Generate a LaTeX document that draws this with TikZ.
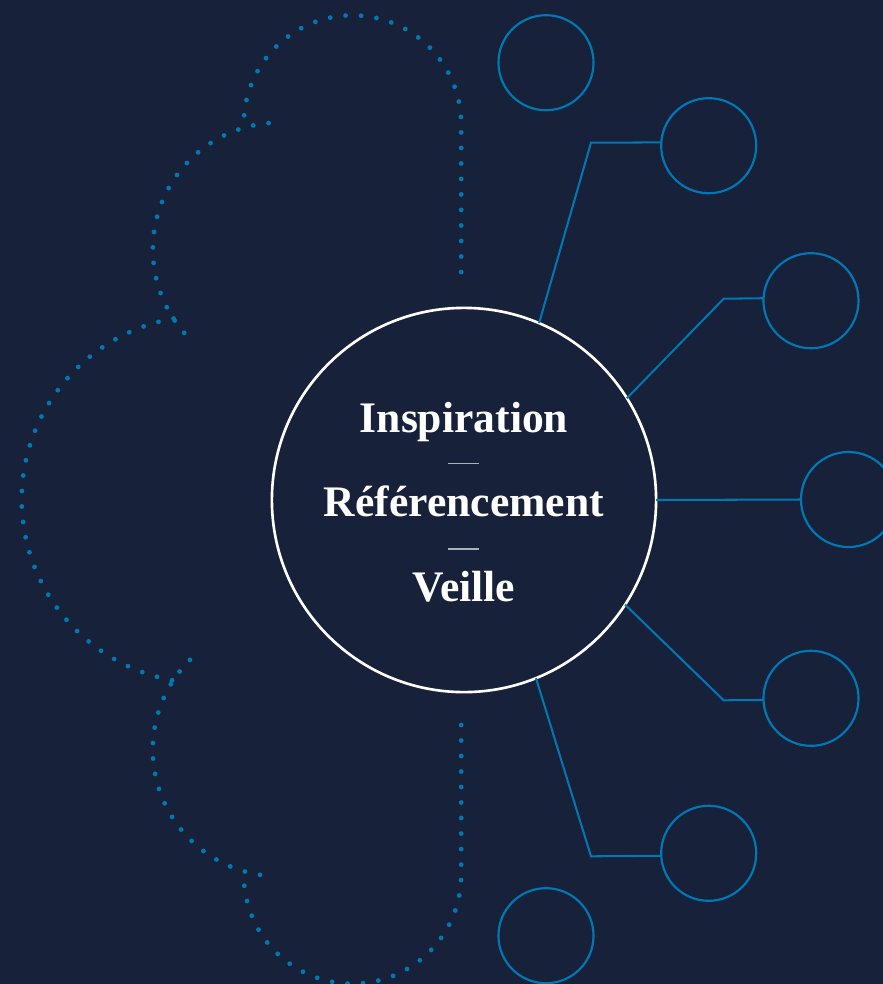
\documentclass[tikz,border=0pt]{standalone}
\usepackage{fontspec}
\setmainfont{Liberation Serif}
\definecolor{fond}{RGB}{23,34,58}
\definecolor{bleu}{RGB}{0,120,180}
\definecolor{trait}{RGB}{170,176,190}
\tikzset{
  pointille/.style={bleu, line width=0.048cm, line cap=round, dash pattern=on 0pt off 0.155cm},
  bulle/.style={circle, draw=bleu, line width=0.62pt, minimum size=0.95cm, inner sep=0pt, outer sep=0pt},
  lien/.style={bleu, line width=0.58pt},
  titre/.style={anchor=base, text=white, font=\bfseries\fontsize{12.4}{14}\selectfont},
}
\begin{document}
\begin{tikzpicture}[x=0.01cm, y=0.01cm]
        % Fond
        \fill [fond] (0,0) rectangle (883,-984);
        \useasboundingbox (0,0) rectangle (883,-984);

        % Nuage en pointillés (gauche)
        \draw [pointille] (461.2,-272) -- (461.2,-124) arc[start angle=0, end angle=182, radius=108.7];
        \draw [pointille] (268.6,-123.1) arc[start angle=95, end angle=225, radius=126.8];
        \draw [pointille] (173.6,-318.5) arc[start angle=100, end angle=260, radius=183.8];
        \draw [pointille] (189.9,-659.9) arc[start angle=135, end angle=265, radius=126.8];
        \draw [pointille] (461.2,-725) -- (461.2,-875) arc[start angle=360, end angle=178, radius=108.7];

        % Cercle central
        \node [circle, draw=white, line width=0.75pt, minimum size=3.84cm, inner sep=0pt, outer sep=0pt] (centre) at (464,-500) {};

        % Bulles (droite)
        \node [bulle] (b1) at (546,-62.7) {};
        \node [bulle] (b2) at (708.7,-145.7) {};
        \node [bulle] (b3) at (811,-300.7) {};
        \node [bulle] (b4) at (848.5,-499.5) {};
        \node [bulle] (b5) at (811,-698.3) {};
        \node [bulle] (b6) at (708.7,-853.3) {};
        \node [bulle] (b7) at (546,-935.7) {};

        % Coudes des liens
        \coordinate (k2) at (591,-142.7);
        \coordinate (k3) at (723.7,-298.7);
        \coordinate (k5) at (723.7,-700.3);
        \coordinate (k6) at (591,-856.3);

        % Liens
        \draw [lien] (centre.67.9) -- (k2) -- (b2.176.4);
        \draw [lien] (centre.32.6) -- (k3) -- (b3.177.6);
        \draw [lien] (centre.east) -- (b4.west);
        \draw [lien] (centre.327.4) -- (k5) -- (b5.182.4);
        \draw [lien] (centre.292.1) -- (k6) -- (b6.183.6);

        % Textes
        \node [titre] (insp) at (464,-432.7) {Inspiration};
        \node [titre] (refe) at (464,-516.7) {Référencement};
        \node [titre] (veil) at (464,-601.7) {Veille};
        \draw [trait, line width=0.3pt] (447.7,-463.3) -- (479.3,-463.3);
        \draw [trait, line width=0.3pt] (447.7,-549) -- (479.3,-549);
\end{tikzpicture}
\end{document}
